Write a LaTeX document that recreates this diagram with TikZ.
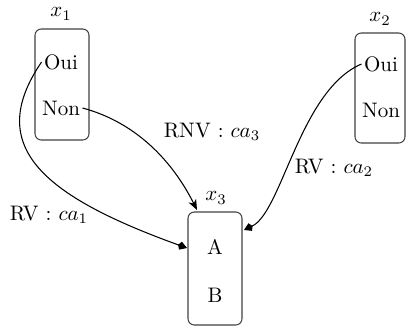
\documentclass[tikz,border=0pt]{standalone}
\usetikzlibrary{arrows.meta}
\begin{document}
\begin{tikzpicture}[x=0.476pt,y=-0.476pt,
  varbox/.style={draw=black!75,line width=0.5pt,rounded corners=3pt,inner sep=0pt},
  val/.style={inner sep=1pt},
  conn/.style={line width=0.5pt},
  rv/.style={conn,-{Kite[length=4.5pt,width=4pt,inset=1.2pt]}},
  rnv/.style={conn,-{Stealth[length=5pt,width=4pt,inset=1.5pt]}}]
\useasboundingbox (0,0) rectangle (407,326);
% boxes
\node[varbox,minimum width=54*0.476pt,minimum height=111*0.476pt] (b1) at (62,84.5) {};
\node[varbox,minimum width=50*0.476pt,minimum height=110*0.476pt] (b2) at (380,88) {};
\node[varbox,minimum width=54*0.476pt,minimum height=113*0.476pt] (b3) at (215,268.5) {};
% titles
\node (t1) at (61,14) {$x_1$};
\node (t2) at (380,19) {$x_2$};
\node (t3) at (216,198) {$x_3$};
% values
\node[val] (oui1) at (61,62) {Oui};
\node[val] (non1) at (61,108) {Non};
\node[val] (oui2) at (381,64) {Oui};
\node[val] (non2) at (381,110) {Non};
\node[val] (a3) at (215,247) {A};
\node[val] (b3v) at (215,295) {B};
% anchors
\coordinate (e1) at (187,248);
\coordinate (e2) at (197,210);
\coordinate (e3) at (244,230);
% connectors
\draw[rv] (oui1.west) .. controls (-15,145) and (40,195) .. (e1);
\draw[rnv] (non1.east) .. controls (135,122) and (172,160) .. (e2);
\draw[rv] (oui2.west) .. controls (300,90) and (282,212) .. (e3);
% labels
\node (l3) at (212,132) {RNV : $ca_3$};
\node (l2) at (334,168) {RV : $ca_2$};
\node (l1) at (49,215) {RV : $ca_1$};
\end{tikzpicture}
\end{document}
